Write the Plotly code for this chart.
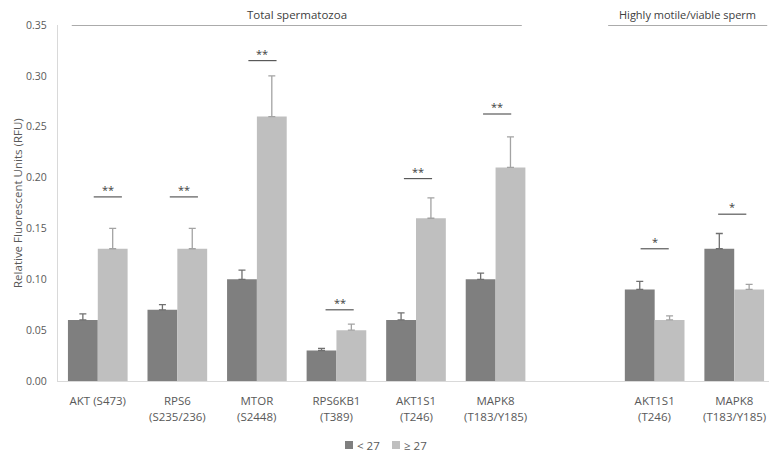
import plotly.graph_objects as go

# ---- data ----
names = ["AKT (S473)", "RPS6", "MTOR", "RPS6KB1", "AKT1S1", "MAPK8", "", "AKT1S1", "MAPK8"]
sites = ["", "(S235/236)", "(S2448)", "(T389)", "(T246)", "(T183/Y185)", "", "(T246)", "(T183/Y185)"]
low_vals = [0.06, 0.07, 0.10, 0.03, 0.06, 0.10, None, 0.09, 0.13]
low_err = [0.006, 0.005, 0.009, 0.002, 0.007, 0.006, None, 0.008, 0.015]
high_vals = [0.13, 0.13, 0.26, 0.05, 0.16, 0.21, None, 0.06, 0.09]
high_err = [0.02, 0.02, 0.04, 0.006, 0.02, 0.03, None, 0.004, 0.005]
sig_labels = ["**", "**", "**", "**", "**", "**", None, "*", "*"]
sig_levels = [0.181, 0.181, 0.315, 0.070, 0.199, 0.2625, None, 0.130, 0.164]
sig_offsets = [0.126, 0.082, 0.07, 0.04, 0.025, 0.02, 0, 0.0, -0.025]
y_ticks = [0.00, 0.05, 0.10, 0.15, 0.20, 0.25, 0.30, 0.35]
series_names = ["< 27", "≥ 27"]
series_colors = ["#7f7f7f", "#bfbfbf"]

xs = list(range(len(names)))
FONT = "Open Sans"
TXT = "#595959"

fig = go.Figure()
fig.add_trace(go.Bar(
    x=xs, y=low_vals, name=series_names[0], marker=dict(color=series_colors[0], line=dict(width=0)),
    error_y=dict(type="data", array=low_err, arrayminus=[0] * len(xs), symmetric=False,
                 color="#707070", thickness=1.3, width=3.5),
))
fig.add_trace(go.Bar(
    x=xs, y=high_vals, name=series_names[1], marker=dict(color=series_colors[1], line=dict(width=0)),
    error_y=dict(type="data", array=high_err, arrayminus=[0] * len(xs), symmetric=False,
                 color="#a3a3a3", thickness=1.3, width=3.5),
))

shapes = []
annotations = []
half = 0.177
for i, (lab, lev, off) in enumerate(zip(sig_labels, sig_levels, sig_offsets)):
    if lab is None:
        continue
    c = i + off
    shapes.append(dict(type="line", xref="x", yref="y", x0=c - half, x1=c + half, y0=lev, y1=lev,
                       line=dict(color="#595959", width=1.2)))
    annotations.append(dict(x=c, y=lev, xref="x", yref="y", text=lab, showarrow=False,
                            yanchor="bottom", yshift=-2, font=dict(family=FONT, size=11, color="#404040")))

# second line of the category labels
for i, s in enumerate(sites):
    if s:
        annotations.append(dict(x=i, y=-0.1, xref="x", yref="paper", text=s, showarrow=False,
                                yanchor="middle", font=dict(family=FONT, size=11.5, color=TXT)))

# group headers
shapes.append(dict(type="line", xref="x", yref="y", x0=-0.327, x1=5.33, y0=0.35, y1=0.35,
                   line=dict(color="#595959", width=1.2)))
shapes.append(dict(type="line", xref="x", yref="y", x0=6.415, x1=8.415, y0=0.35, y1=0.35,
                   line=dict(color="#595959", width=1.2)))
annotations.append(dict(x=(-0.327 + 5.33) / 2, y=0.35, xref="x", yref="y", text="Total spermatozoa",
                        showarrow=False, yanchor="bottom", yshift=1,
                        font=dict(family=FONT, size=11.5, color="#404040")))
annotations.append(dict(x=(6.415 + 8.415) / 2, y=0.35, xref="x", yref="y", text="Highly motile/viable sperm",
                        showarrow=False, yanchor="bottom", yshift=1,
                        font=dict(family=FONT, size=11, color="#404040")))
# y-axis title
annotations.append(dict(x=-0.0573, y=0.5, xref="paper", yref="paper", text="Relative Fluorescent Units (RFU)",
                        showarrow=False, textangle=-90, xanchor="center", yanchor="middle", borderpad=0,
                        font=dict(family=FONT, size=11.5, color=TXT)))

# compact legend (square + label), like the original
leg_y = (381 - 445) / 356
leg_sq = [(349 - 58) / 716, (396 - 58) / 716]
sq_w = 8 / 716
sq_h = 8 / 356
for nm, col, lx in zip(series_names, series_colors, leg_sq):
    shapes.append(dict(type="rect", xref="paper", yref="paper", x0=lx - sq_w / 2, x1=lx + sq_w / 2,
                       y0=leg_y - sq_h / 2, y1=leg_y + sq_h / 2, fillcolor=col, line=dict(width=0)))
    annotations.append(dict(x=lx + sq_w / 2 + 2 / 716, y=leg_y, xref="paper", yref="paper", text=nm,
                            showarrow=False, xanchor="left", yanchor="middle",
                            font=dict(family=FONT, size=11.5, color=TXT)))

fig.update_layout(
    width=777, height=457,
    # the page body adds an 8px offset, so margins are compensated
    margin=dict(l=50, r=11, t=17, b=84),
    paper_bgcolor="white", plot_bgcolor="white",
    barmode="group", bargap=0.25, bargroupgap=0,
    shapes=shapes, annotations=annotations,
    font=dict(family=FONT, color=TXT),
    showlegend=False,
    xaxis=dict(range=[-0.5, 8.5], tickmode="array", tickvals=xs, ticktext=names,
               automargin=False,
               showgrid=False, zeroline=False, showline=True, linecolor="#d9d9d9", linewidth=1.3,
               ticks="", ticklabelstandoff=9, tickfont=dict(family=FONT, size=11.5, color=TXT)),
    yaxis=dict(range=[0, 0.35], tickmode="array", tickvals=y_ticks,
               ticktext=[f"{v:.2f}" for v in y_ticks], automargin=False,
               showgrid=False, zeroline=False, showline=True, linecolor="#d9d9d9", linewidth=1.3,
               ticks="", ticklabelstandoff=8, tickfont=dict(family=FONT, size=10.5, color=TXT)),
)

fig.write_html("out.html")
